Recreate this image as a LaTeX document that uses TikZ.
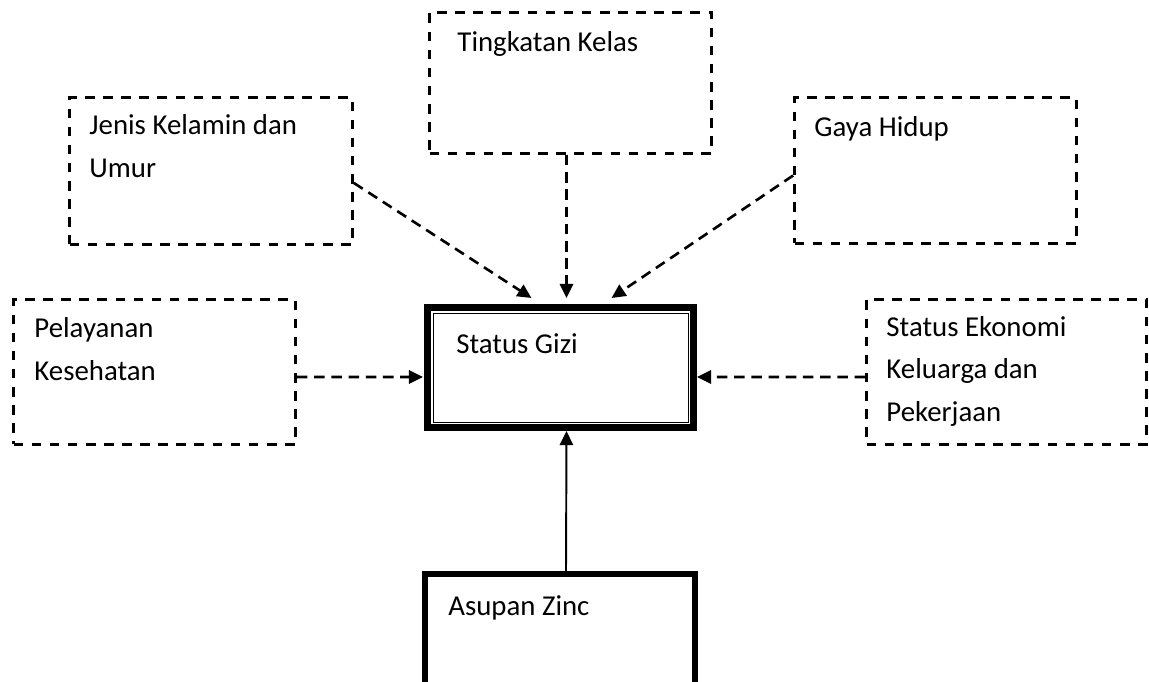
\documentclass[tikz,border=0pt]{standalone}
\usepackage{fontspec}
\setmainfont{Carlito}
\usetikzlibrary{calc,arrows.meta}

\begin{document}
\begin{tikzpicture}[x=0.02cm,y=-0.02cm,
      box/.style={draw,rectangle,line width=1.6pt,dash pattern=on 5.5pt off 4.8pt},
      txt/.style={anchor=base west,align=left,inner sep=0pt,font=\fontsize{16.4}{24.2}\selectfont},
      dasharrow/.style={-{Triangle[length=8pt,width=7.5pt]},line width=1.5pt,dash pattern=on 6pt off 3.8pt}]
    \clip (0,0) rectangle (1149,682);

    % boxes
    \node[box,minimum width=5.64cm,minimum height=2.82cm](kelas) at (570.5,83){};
    \node[box,minimum width=5.66cm,minimum height=2.94cm](jenis) at (211,171){};
    \node[box,minimum width=5.64cm,minimum height=2.92cm](gaya) at (935.5,170.5){};
    \node[box,minimum width=5.64cm,minimum height=2.90cm](layan) at (154.5,372){};
    \node[box,minimum width=5.60cm,minimum height=2.90cm](ekon) at (1006.5,372){};
    \node[draw,rectangle,line width=0.14cm,minimum width=5.32cm,minimum height=2.4cm](gizi) at (560.5,367.5){};
    \draw[line width=0.8pt] ($(gizi.north west)+(9.5,9.5)$) rectangle ($(gizi.south east)+(-8.5,-8.5)$);
    \node[draw,rectangle,line width=0.12cm,minimum width=5.4cm,minimum height=2.52cm](zinc) at (560,637){};

    % texts (base = last line)
    \node[txt](tkelas) at ($(kelas.north west)+(29,40)$){Tingkatan Kelas};
    \node[txt](tjenis) at ($(jenis.north west)+(21,81)$){Jenis Kelamin dan\\Umur};
    \node[txt](tgaya) at ($(gaya.north west)+(21,40)$){Gaya Hidup};
    \node[txt](tlayan) at ($(layan.north west)+(22,82)$){Pelayanan\\Kesehatan};
    \node[txt](tekon) at ($(ekon.north west)+(21,123)$){Status Ekonomi\\Keluarga dan\\Pekerjaan};
    \node[txt](tgizi) at ($(gizi.north west)+(32,49)$){Status Gizi};
    \node[txt](tzinc) at ($(zinc.north west)+(26,44)$){Asupan Zinc};

    % arrows
    \draw[dasharrow] ([yshift=-0.24cm]jenis.east) -- ($(gizi.north)+(-29,-6)$);
    \draw[dasharrow] ($(kelas.south)+(-4,0)$) -- ($(gizi.north)+(6,-6)$);
    \draw[dasharrow] ($(gaya.west)+(0,5)$) -- ($(gizi.north)+(51,-6)$);
    \draw[dasharrow] ($(layan.east)+(0,5)$) -- ($(gizi.west)+(-1,9.5)$);
    \draw[dasharrow] ($(ekon.west)+(0,5)$) -- ($(gizi.east)+(0,9.5)$);
    \draw[-{Triangle[length=8pt,width=7.5pt]},line width=1.1pt] ($(zinc.north)+(6,0)$) -- ($(gizi.south)+(6,0)$);
\end{tikzpicture}
\end{document}
